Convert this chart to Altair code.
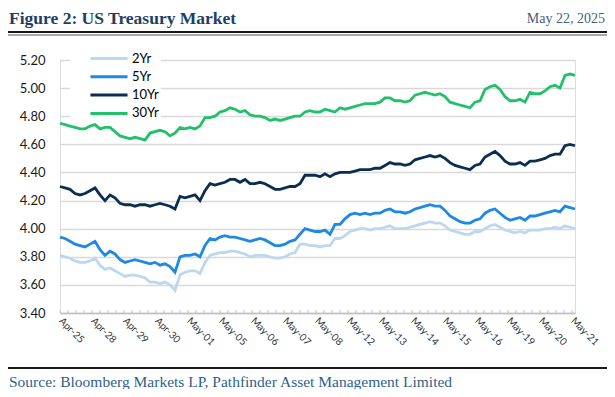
import altair as alt
import pandas as pd

series_names = ["2Yr", "5Yr", "10Yr", "30Yr"]
series_colors = ["#BDD7EE", "#1E88E5", "#0B2E50", "#22C06A"]

x_labels = ["Apr-25", "Apr-28", "Apr-29", "Apr-30", "May-01", "May-05", "May-06",
            "May-07", "May-08", "May-12", "May-13", "May-14", "May-15", "May-16",
            "May-19", "May-20", "May-21"]
label_step = 6.4  # observations per labelled date

y_ticks = [3.40, 3.60, 3.80, 4.00, 4.20, 4.40, 4.60, 4.80, 5.00, 5.20]

yr30 = [4.75, 4.74, 4.73, 4.72, 4.71, 4.71, 4.73, 4.74,
        4.71, 4.72, 4.72, 4.69, 4.66, 4.65, 4.64, 4.65,
        4.64, 4.63, 4.68, 4.69, 4.70, 4.69, 4.66, 4.68,
        4.72, 4.71, 4.72, 4.71, 4.73, 4.79, 4.79, 4.80,
        4.83, 4.84, 4.86, 4.85, 4.83, 4.84, 4.81, 4.80,
        4.80, 4.79, 4.77, 4.78, 4.77, 4.78, 4.79, 4.80,
        4.80, 4.83, 4.84, 4.83, 4.83, 4.85, 4.84, 4.83,
        4.86, 4.85, 4.86, 4.87, 4.88, 4.89, 4.89, 4.89,
        4.90, 4.93, 4.93, 4.91, 4.91, 4.90, 4.91, 4.95,
        4.96, 4.97, 4.96, 4.95, 4.96, 4.94, 4.90, 4.89,
        4.88, 4.87, 4.86, 4.90, 4.91, 4.99, 5.01, 5.02,
        4.99, 4.94, 4.91, 4.91, 4.92, 4.90, 4.97, 4.96,
        4.96, 4.98, 5.01, 5.02, 5.00, 5.09, 5.10, 5.09]

yr10 = [4.30, 4.29, 4.28, 4.25, 4.24, 4.25, 4.27, 4.29,
        4.24, 4.20, 4.24, 4.22, 4.18, 4.17, 4.17, 4.16,
        4.17, 4.17, 4.16, 4.17, 4.18, 4.17, 4.16, 4.14,
        4.23, 4.22, 4.23, 4.24, 4.20, 4.27, 4.32, 4.31,
        4.32, 4.33, 4.35, 4.35, 4.33, 4.35, 4.32, 4.32,
        4.33, 4.32, 4.30, 4.28, 4.28, 4.29, 4.30, 4.30,
        4.32, 4.38, 4.38, 4.38, 4.37, 4.39, 4.37, 4.39,
        4.40, 4.40, 4.40, 4.41, 4.42, 4.42, 4.42, 4.43,
        4.43, 4.45, 4.47, 4.46, 4.46, 4.45, 4.46, 4.49,
        4.50, 4.51, 4.52, 4.51, 4.52, 4.50, 4.47, 4.45,
        4.44, 4.43, 4.42, 4.45, 4.46, 4.51, 4.53, 4.55,
        4.52, 4.48, 4.46, 4.46, 4.47, 4.45, 4.48, 4.48,
        4.49, 4.50, 4.52, 4.53, 4.53, 4.59, 4.60, 4.59]

yr5 = [3.94, 3.93, 3.91, 3.89, 3.88, 3.87, 3.89, 3.91,
       3.85, 3.81, 3.84, 3.82, 3.78, 3.76, 3.77, 3.78,
       3.77, 3.76, 3.75, 3.76, 3.74, 3.75, 3.73, 3.69,
       3.80, 3.81, 3.81, 3.82, 3.80, 3.88, 3.93, 3.92,
       3.94, 3.95, 3.94, 3.94, 3.93, 3.92, 3.91, 3.92,
       3.93, 3.92, 3.90, 3.88, 3.88, 3.89, 3.91, 3.92,
       3.96, 4.00, 3.99, 3.98, 3.98, 3.99, 3.96, 4.03,
       4.03, 4.07, 4.10, 4.11, 4.10, 4.11, 4.10, 4.11,
       4.11, 4.13, 4.14, 4.12, 4.12, 4.11, 4.12, 4.14,
       4.15, 4.16, 4.17, 4.16, 4.16, 4.13, 4.09, 4.07,
       4.05, 4.04, 4.04, 4.06, 4.07, 4.11, 4.13, 4.14,
       4.11, 4.08, 4.06, 4.07, 4.08, 4.06, 4.09, 4.09,
       4.10, 4.11, 4.12, 4.13, 4.12, 4.16, 4.15, 4.14]

yr2 = [3.81, 3.80, 3.79, 3.77, 3.76, 3.76, 3.77, 3.79,
       3.74, 3.71, 3.72, 3.70, 3.68, 3.66, 3.67, 3.67,
       3.66, 3.65, 3.62, 3.62, 3.61, 3.62, 3.60, 3.56,
       3.67, 3.69, 3.70, 3.70, 3.68, 3.76, 3.81, 3.82,
       3.83, 3.83, 3.84, 3.84, 3.83, 3.82, 3.80, 3.81,
       3.81, 3.81, 3.80, 3.79, 3.79, 3.80, 3.82, 3.83,
       3.89, 3.89, 3.88, 3.88, 3.87, 3.88, 3.88, 3.93,
       3.93, 3.95, 3.98, 3.99, 4.00, 4.00, 3.99, 4.00,
       4.00, 4.01, 4.02, 4.00, 4.00, 4.00, 4.01, 4.02,
       4.03, 4.04, 4.05, 4.04, 4.04, 4.02, 3.99, 3.98,
       3.97, 3.96, 3.96, 3.98, 3.98, 4.00, 4.02, 4.03,
       4.01, 3.99, 3.98, 3.97, 3.98, 3.97, 3.99, 3.99,
       3.99, 4.00, 4.00, 4.01, 4.00, 4.02, 4.01, 4.00]

title_text = "Figure 2: US Treasury Market"
date_text = "May 22, 2025"
source_text = "Source: Bloomberg Markets LP, Pathfinder Asset Management Limited"

# ---- build tables ----
rows = []
for name, vals in zip(series_names, [yr2, yr5, yr10, yr30]):
    for i, v in enumerate(vals):
        rows.append({"obs": i, "series": name, "yield": v})
df = pd.DataFrame(rows)
n_obs = len(yr30)
x_max = n_obs - 1

label_values = [round(k * label_step, 4) for k in range(len(x_labels))]
minor_values = [round(k * label_step / 4, 4) for k in range(4 * (len(x_labels) - 1) + 1)]
ticks_df = pd.DataFrame({"obs": minor_values})

label_array = "[" + ",".join("'" + s + "'" for s in x_labels) + "]"
label_expr = f"{label_array}[round(datum.value / {label_step})]"

W, H = 515, 253
FONT_SANS = "Lato"
FONT_SERIF = "Liberation Serif"

x_scale = alt.Scale(domain=[0, x_max], nice=False, zero=False)
x_axis = alt.Axis(values=label_values, labelExpr=label_expr, title=None,
                  grid=False, ticks=False, domainColor="#BFBFBF", domainWidth=1.5,
                  labelAngle=45, labelAlign="left", labelBaseline="middle",
                  labelFont=FONT_SANS, labelFontSize=10, labelColor="#333333",
                  labelPadding=6, labelOverlap=False, labelBound=False)

lines = alt.Chart(df).mark_line(strokeWidth=2.8).encode(
    x=alt.X("obs:Q", scale=x_scale, axis=x_axis),
    y=alt.Y("yield:Q", scale=alt.Scale(domain=[3.4, 5.2], nice=False, zero=False),
            axis=alt.Axis(values=y_ticks, format=".2f", title=None, domain=False,
                          ticks=False, gridColor="#D9D9D9", gridWidth=1.5,
                          labelFont=FONT_SANS, labelFontSize=13, labelColor="#1A1A1A",
                          labelPadding=15)),
    color=alt.Color("series:N",
                    scale=alt.Scale(domain=series_names, range=series_colors),
                    legend=alt.Legend(title=None, orient="none", legendX=10, legendY=-10,
                                      fillColor="white", padding=2,
                                      symbolType="M-5.3,0L5.3,0", symbolSize=49,
                                      symbolStrokeWidth=3, symbolOffset=30.5,
                                      labelOffset=16.5, rowPadding=4.3,
                                      labelExpr="datum.label + '\u00a0\u00a0\u00a0\u00a0\u00a0'",
                                      labelFont=FONT_SANS, labelFontSize=13,
                                      labelColor="#000000")),
    order=alt.Order("obs:Q"),
    detail="series:N",
)

minor_ticks = alt.Chart(ticks_df).mark_rule(color="#BFBFBF", strokeWidth=1).encode(
    x=alt.X("obs:Q", scale=x_scale, axis=x_axis),
    y=alt.value(H),
    y2=alt.value(H - 3),
)

one = pd.DataFrame({"a": [0]})

title = alt.Chart(pd.DataFrame({"t": [title_text]})).mark_text(
    font=FONT_SERIF, fontSize=17.5, fontWeight="bold", color="#1C3F63",
    align="left", baseline="alphabetic").encode(
    text="t:N", x=alt.value(-51), y=alt.value(-36))

date = alt.Chart(pd.DataFrame({"t": [date_text]})).mark_text(
    font=FONT_SERIF, fontSize=14, color="#3F5F80",
    align="right", baseline="alphabetic").encode(
    text="t:N", x=alt.value(545), y=alt.value(-37))

source = alt.Chart(pd.DataFrame({"t": [source_text]})).mark_text(
    font=FONT_SERIF, fontSize=15.5, color="#2F5F8A",
    align="left", baseline="alphabetic").encode(
    text="t:N", x=alt.value(-51), y=alt.value(327))

rule_top_thick = alt.Chart(one).mark_rule(color="#1A1A1A", strokeWidth=2).encode(
    x=alt.value(-52), x2=alt.value(547), y=alt.value(-28))
rule_top_thin = alt.Chart(one).mark_rule(color="#555555", strokeWidth=1).encode(
    x=alt.value(-52), x2=alt.value(547), y=alt.value(-25))
rule_bottom = alt.Chart(one).mark_rule(color="#1A1A1A", strokeWidth=2).encode(
    x=alt.value(-52), x2=alt.value(547), y=alt.value(308))

chart = alt.layer(
    lines, minor_ticks, title, date, source, rule_top_thick, rule_top_thin, rule_bottom
).properties(
    width=W, height=H,
    autosize="none",
    padding={"left": 52, "top": 52, "right": 32, "bottom": 76},
).configure_view(stroke=None).configure(background="white")

chart.save("out.html", embed_options={"renderer": "svg", "actions": False})
